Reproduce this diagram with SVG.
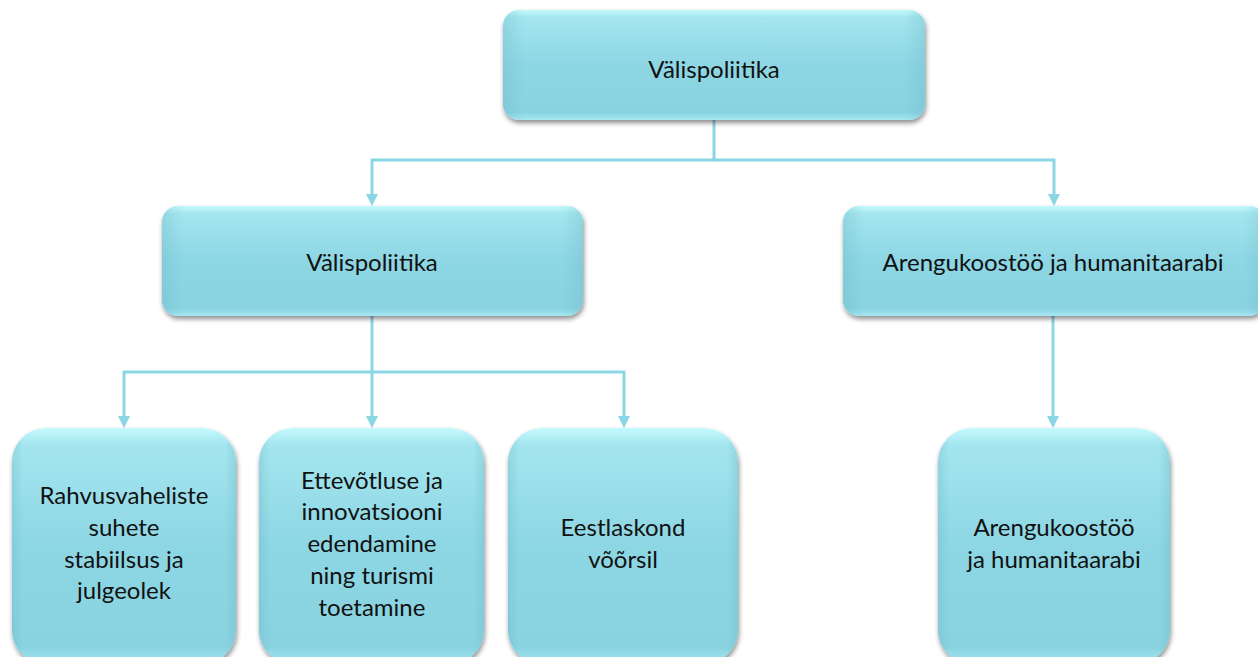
<svg xmlns="http://www.w3.org/2000/svg" width="1258" height="657" viewBox="0 0 1258 657">
  <style>
    .box { fill: url(#fillV); filter: url(#shadow); }
    .side { fill: url(#fillH); }
    .lbl { font-family: Lato, "Open Sans", "Liberation Sans", sans-serif; font-size: 24px; fill: #111; text-anchor: middle; }
    .conn { fill: none; stroke: #8AD6E5; stroke-width: 3; }
    .head { fill: #8AD6E5; }
  </style>
  <defs>
    <linearGradient id="fillV" x1="0" y1="0" x2="0" y2="1">
      <stop offset="0" stop-color="#C4FAFD"/>
      <stop offset="0.07" stop-color="#A4E6EF"/>
      <stop offset="0.5" stop-color="#8DD6E4"/>
      <stop offset="0.93" stop-color="#89D3E1"/>
      <stop offset="1" stop-color="#A6E8F2"/>
    </linearGradient>
    <linearGradient id="fillH" x1="0" y1="0" x2="1" y2="0">
      <stop offset="0" stop-color="#6FB9C8" stop-opacity="0.35"/>
      <stop offset="0.05" stop-color="#6FB9C8" stop-opacity="0"/>
      <stop offset="0.95" stop-color="#6FB9C8" stop-opacity="0"/>
      <stop offset="1" stop-color="#6FB9C8" stop-opacity="0.35"/>
    </linearGradient>
    <filter id="shadow" x="-5%" y="-10%" width="115%" height="130%">
      <feGaussianBlur in="SourceAlpha" stdDeviation="2.5"/>
      <feOffset dx="1" dy="3" result="b"/>
      <feComponentTransfer><feFuncA type="linear" slope="0.45"/></feComponentTransfer>
      <feMerge><feMergeNode/><feMergeNode in="SourceGraphic"/></feMerge>
    </filter>
  </defs>

  <g id="connectors">
    <path class="conn" d="M714,120 V160 H372 V194"/>
    <path class="conn" d="M714,160 H1054 V194"/>
    <path class="head" d="M366,194 H378 L372,206 Z M1048,194 H1060 L1054,206 Z"/>
    <path class="conn" d="M372,316 V416"/>
    <path class="conn" d="M124,416 V372 H624 V416"/>
    <path class="conn" d="M1053,316 V416"/>
    <path class="head" d="M118,416 H130 L124,428 Z M366,416 H378 L372,428 Z M618,416 H630 L624,428 Z M1047,416 H1059 L1053,428 Z"/>
  </g>

  <g id="n-top">
    <rect class="box" x="503" y="10" width="422" height="110" rx="16"/>
    <rect class="side" x="503" y="10" width="422" height="110" rx="16"/>
    <text class="lbl" x="714" y="78">Välispoliitika</text>
  </g>

  <g id="n-vali">
    <rect class="box" x="162" y="206" width="421" height="110" rx="16"/>
    <rect class="side" x="162" y="206" width="421" height="110" rx="16"/>
    <text class="lbl" x="372" y="271">Välispoliitika</text>
  </g>

  <g id="n-areng">
    <rect class="box" x="843" y="206" width="422" height="110" rx="16"/>
    <rect class="side" x="843" y="206" width="422" height="110" rx="16"/>
    <text class="lbl" x="1053" y="271">Arengukoostöö ja humanitaarabi</text>
  </g>

  <g id="n-rahvus">
    <rect class="box" x="12" y="428" width="224" height="236" rx="34"/>
    <rect class="side" x="12" y="428" width="224" height="236" rx="34"/>
    <text class="lbl" x="124" y="504">Rahvusvaheliste</text>
    <text class="lbl" x="124" y="536">suhete</text>
    <text class="lbl" x="124" y="568">stabiilsus ja</text>
    <text class="lbl" x="124" y="599">julgeolek</text>
  </g>

  <g id="n-ettev">
    <rect class="box" x="259" y="428" width="225" height="236" rx="34"/>
    <rect class="side" x="259" y="428" width="225" height="236" rx="34"/>
    <text class="lbl" x="372" y="489">Ettevõtluse ja</text>
    <text class="lbl" x="372" y="520">innovatsiooni</text>
    <text class="lbl" x="372" y="552">edendamine</text>
    <text class="lbl" x="372" y="584">ning turismi</text>
    <text class="lbl" x="372" y="616">toetamine</text>
  </g>

  <g id="n-eestl">
    <rect class="box" x="508" y="428" width="230" height="236" rx="34"/>
    <rect class="side" x="508" y="428" width="230" height="236" rx="34"/>
    <text class="lbl" x="623" y="536">Eestlaskond</text>
    <text class="lbl" x="623" y="568">võõrsil</text>
  </g>

  <g id="n-areng2">
    <rect class="box" x="938" y="428" width="232" height="236" rx="34"/>
    <rect class="side" x="938" y="428" width="232" height="236" rx="34"/>
    <text class="lbl" x="1054" y="536">Arengukoostöö</text>
    <text class="lbl" x="1054" y="568">ja humanitaarabi</text>
  </g>
</svg>
